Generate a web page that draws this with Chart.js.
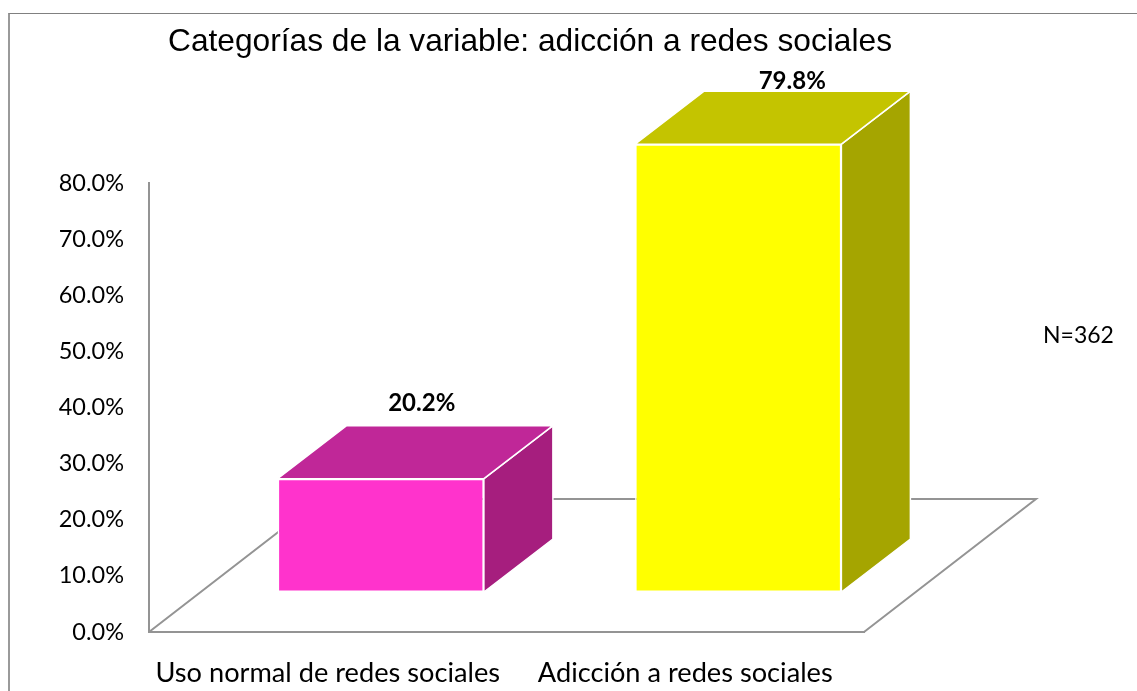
<!DOCTYPE html>
<html lang="es">
<head>
<meta charset="utf-8">
<title>Adicción a redes sociales</title>
<script src="https://cdn.jsdelivr.net/npm/chart.js@4"></script>
<style>
	html, body { margin: 0; padding: 0; background: #fff; overflow: hidden; }
	#frame {
		position: absolute; left: 8px; top: 13px; right: 0; bottom: 0;
		border-left: 2px solid #9a9a9a; border-top: 1px solid #808080;
	}
	#barChart { position: absolute; left: 0; top: 0; }
	#sample {
		position: absolute; left: 1043px; top: 320px;
		font: 23px Lato, sans-serif; color: #000;
	}
</style>
</head>
<body>
<div id="frame"></div>
<canvas id="barChart" width="1060" height="691"></canvas>
<div id="sample">N=362</div>
<script>
const categories = ['Uso normal de redes sociales', 'Adicción a redes sociales'];
const percentages = [20.2, 79.8];
const frontColors = ['#ff33cc', '#ffff00'];
const topColors = ['#c02798', '#c4c400'];
const sideColors = ['#a61e7e', '#a5a500'];
const chartTitle = 'Categorías de la variable: adicción a redes sociales';

const AXIS_GREY = '#949494';
// the bars stand in the middle of the floor, so everything is pushed back by this much
const SHIFT_X = 53, SHIFT_Y = -40;
const DEPTH_X = 69, DEPTH_Y = -53;
const FLOOR_X = 172, FLOOR_Y = -133;
// label position relative to the back of the bar top
const labelOffsets = [[-28, -22], [-15, -10]];

function poly(ctx, pts, fill) {
	ctx.beginPath();
	pts.forEach((p, i) => i ? ctx.lineTo(p[0], p[1]) : ctx.moveTo(p[0], p[1]));
	ctx.closePath();
	ctx.fillStyle = fill;
	ctx.fill();
	ctx.strokeStyle = '#fff';
	ctx.lineWidth = 1.5;
	ctx.stroke();
}

const box3d = {
	id: 'box3d',
	beforeDatasetsDraw(chart) {
		const { ctx, chartArea: a } = chart;
		// floor
		ctx.save();
		ctx.strokeStyle = AXIS_GREY;
		ctx.lineWidth = 2;
		ctx.beginPath();
		ctx.moveTo(a.left, a.bottom);
		ctx.lineTo(a.left + FLOOR_X, a.bottom + FLOOR_Y);
		ctx.lineTo(a.right + FLOOR_X, a.bottom + FLOOR_Y);
		ctx.lineTo(a.right, a.bottom);
		ctx.stroke();
		ctx.restore();

		// side and top faces, the front is the real bar
		chart.getDatasetMeta(0).data.forEach((bar, i) => {
			const left = bar.x - bar.width / 2 + SHIFT_X;
			const right = bar.x + bar.width / 2 + SHIFT_X;
			const top = bar.y + SHIFT_Y;
			const bottom = bar.base + SHIFT_Y;
			poly(ctx, [[right, top], [right + DEPTH_X, top + DEPTH_Y], [right + DEPTH_X, bottom + DEPTH_Y], [right, bottom]], sideColors[i]);
			poly(ctx, [[left, top], [left + DEPTH_X, top + DEPTH_Y], [right + DEPTH_X, top + DEPTH_Y], [right, top]], topColors[i]);
		});
		ctx.save();
		ctx.translate(SHIFT_X, SHIFT_Y);
	},
	afterDatasetsDraw(chart) {
		const ctx = chart.ctx;
		ctx.restore();
		ctx.save();
		ctx.font = 'bold 24px Lato, sans-serif';
		ctx.fillStyle = '#000';
		ctx.textAlign = 'center';
		ctx.textBaseline = 'middle';
		chart.getDatasetMeta(0).data.forEach((bar, i) => {
			const x = bar.x + SHIFT_X + DEPTH_X + labelOffsets[i][0];
			const y = bar.y + SHIFT_Y + DEPTH_Y + labelOffsets[i][1];
			ctx.fillText(percentages[i].toFixed(1) + '%', x, y);
		});
		ctx.restore();
	}
};

new Chart(document.getElementById('barChart'), {
	type: 'bar',
	data: {
		labels: categories,
		datasets: [{
			data: percentages,
			backgroundColor: frontColors,
			borderColor: '#fff',
			borderWidth: 1.5,
			borderSkipped: false,
			barPercentage: 0.577,
			categoryPercentage: 1,
			clip: false
		}]
	},
	options: {
		responsive: false,
		animation: false,
		plugins: {
			legend: { display: false },
			tooltip: { enabled: false },
			title: {
				display: true,
				text: chartTitle,
				color: '#000',
				font: { family: '"Liberation Sans"', size: 31.7, weight: 'normal', lineHeight: 1.2 },
				padding: { top: 23, bottom: 122 }
			}
		},
		scales: {
			x: {
				grid: { display: false },
				border: { display: true, color: AXIS_GREY, width: 2 },
				ticks: { color: '#000', font: { family: 'Lato', size: 27.2 }, padding: 17, maxRotation: 0, autoSkip: false },
				afterFit(scale) { scale.height = 59; }
			},
			y: {
				min: 0,
				max: 80,
				grid: { display: false },
				border: { display: true, color: AXIS_GREY, width: 2 },
				ticks: {
					stepSize: 10,
					color: '#000',
					font: { family: 'Lato', size: 23.5 },
					padding: 17,
					callback: v => v.toFixed(1) + '%'
				},
				afterFit(scale) { scale.width = 149; }
			},
			// empty axis, only keeps the plot clear of the right side so the title stays centred on the canvas
			spacer: {
				axis: 'y',
				position: 'right',
				grid: { display: false },
				border: { display: false },
				ticks: { display: false },
				afterFit(scale) { scale.width = 196; }
			}
		}
	},
	plugins: [box3d]
});
</script>
</body>
</html>
